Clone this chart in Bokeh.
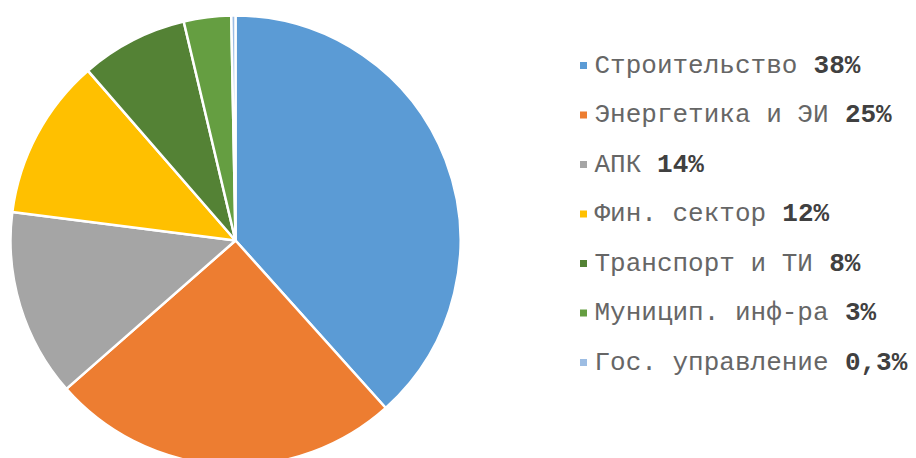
import math
from bokeh.plotting import figure
from bokeh.models import ColumnDataSource, Range1d
from bokeh.core.properties import value
from bokeh.embed import file_html
from bokeh.resources import INLINE

categories = ["Строительство", "Энергетика и ЭИ", "АПК", "Фин. сектор",
              "Транспорт и ТИ", "Муницип. инф-ра", "Гос. управление"]
shares = [38.4, 25.2, 13.5, 11.6, 7.7, 3.4, 0.3]
share_labels = ["38%", "25%", "14%", "12%", "8%", "3%", "0,3%"]
colors = ["#5B9BD5", "#ED7D31", "#A5A5A5", "#FFC000", "#548235", "#659E41", "#9DBDE3"]

W, H = 916, 458
p = figure(width=W, height=H, output_backend="svg", toolbar_location=None,
           x_range=Range1d(0, W), y_range=Range1d(-H, 0),
           min_border=0, outline_line_color=None)
p.xaxis.visible = False
p.yaxis.visible = False
p.grid.visible = False

cx, cy, r = 235, -240, 225
total = sum(shares)
starts, ends = [], []
acc = 0.0
for s in shares:
    a0 = math.pi / 2 - 2 * math.pi * acc / total
    acc += s
    a1 = math.pi / 2 - 2 * math.pi * acc / total
    starts.append(a0)
    ends.append(a1)

src = ColumnDataSource(dict(start=starts, end=ends, color=colors))
p.wedge(x=cx, y=cy, radius=r, start_angle="start", end_angle="end",
        direction="clock", fill_color="color", line_color="white",
        line_width=2.5, source=src)

# legend
row0, step = -65, -49.5
xs_marker = 583
x_text = 594
adv = 15.65
ys = [row0 + i * step for i in range(len(categories))]
num_x = [x_text + (len(c) + 1) * adv for c in categories]
leg = ColumnDataSource(dict(y=ys, color=colors, cat=categories, num=share_labels, nx=num_x))
p.scatter(x=xs_marker, y="y", marker="square", size=7, fill_color="color",
          line_color=None, source=leg)
p.text(x=x_text, y="y", text="cat", text_font=value("Liberation Mono"),
       text_font_size="26px", text_color="#666666", text_baseline="middle",
       text_align="left", source=leg)
p.text(x="nx", y="y", text="num", text_font=value("Liberation Mono"),
       text_font_size="26px", text_font_style="bold", text_color="#404040",
       text_baseline="middle", text_align="left", source=leg)

open("out.html", "w").write(file_html(p, INLINE))
